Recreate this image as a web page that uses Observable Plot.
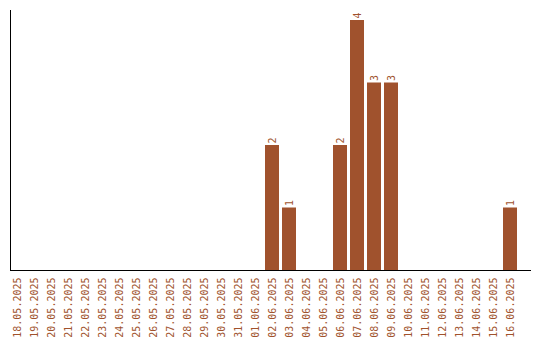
<!DOCTYPE html>
<html>
<head>
<meta charset="utf-8">
<script src="https://cdn.jsdelivr.net/npm/d3@7"></script>
<script src="https://cdn.jsdelivr.net/npm/@observablehq/plot@0.6"></script>
<style>
  html, body { margin: 0; padding: 0; background: #fff; }
  svg text { -webkit-font-smoothing: none; text-rendering: optimizeSpeed; }
</style>
</head>
<body>
<div id="chart"></div>
<script>
const dates = ["18.05.2025","19.05.2025","20.05.2025","21.05.2025","22.05.2025","23.05.2025","24.05.2025","25.05.2025","26.05.2025","27.05.2025","28.05.2025","29.05.2025","30.05.2025","31.05.2025","01.06.2025","02.06.2025","03.06.2025","04.06.2025","05.06.2025","06.06.2025","07.06.2025","08.06.2025","09.06.2025","10.06.2025","11.06.2025","12.06.2025","13.06.2025","14.06.2025","15.06.2025","16.06.2025"];
const counts = [0,0,0,0,0,0,0,0,0,0,0,0,0,0,0,2,1,0,0,2,4,3,3,0,0,0,0,0,0,1];

const data = dates.map((d, i) => ({date: d, count: counts[i]}));
const color = "#a0522d";

const chart = Plot.plot({
  width: 540,
  height: 340,
  marginTop: 10,
  marginBottom: 70,
  marginLeft: 10,
  marginRight: 10,
  style: {fontFamily: "'DejaVu Sans Mono', monospace", fontSize: "10px", background: "#fff"},
  x: {domain: dates, paddingInner: 3/17, paddingOuter: 0, insetRight: 13, label: null},
  y: {domain: [0, 4.16], label: null},
  marks: [
    Plot.barY(data, {x: "date", y: "count", fill: color}),
    Plot.text(data.filter(d => d.count > 0), {x: "date", y: "count", text: d => String(d.count), rotate: -90, textAnchor: "start", dy: -2, fill: color}),
    Plot.axisX({tickSize: 0, tickPadding: 7, tickRotate: -90, fill: color, label: null}),
    Plot.axisY({ticks: [], label: null}),
    Plot.frame({anchor: "left", stroke: "#000"}),
    Plot.frame({anchor: "bottom", stroke: "#000"})
  ]
});
document.getElementById("chart").appendChild(chart);
</script>
</body>
</html>
